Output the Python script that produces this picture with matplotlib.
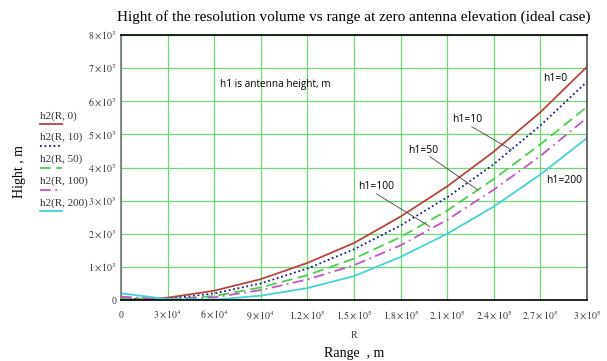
import math
import matplotlib
matplotlib.use("Agg")
import matplotlib.pyplot as plt
from matplotlib.ticker import FuncFormatter, MultipleLocator
from matplotlib.lines import Line2D

plt.rcParams['mathtext.fontset'] = 'stix'
plt.rcParams['font.family'] = ['Liberation Serif', 'DejaVu Serif']

# Data (range in m, height in m)
R = [0, 3e4, 6e4, 9e4, 1.2e5, 1.5e5, 1.8e5, 2.1e5, 2.4e5, 2.7e5, 3e5]
h2_0 = [0, 70, 280, 630, 1120, 1720, 2520, 3430, 4480, 5670, 7040]
h2_10 = [30, 30, 200, 500, 950, 1530, 2250, 3100, 4100, 5270, 6590]
h2_50 = [60, 20, 120, 380, 750, 1250, 1900, 2700, 3650, 4700, 5830]
h2_100 = [100, 20, 80, 300, 620, 1050, 1650, 2420, 3330, 4350, 5500]
h2_200 = [200, 30, 10, 130, 360, 720, 1300, 2000, 2820, 3790, 4890]

series_labels = ["h2(R, 0)", "h2(R, 10)", "h2(R, 50)", "h2(R, 100)", "h2(R, 200)"]
curve_labels = ["h1=0", "h1=10", "h1=50", "h1=100", "h1=200"]

colors = ["#b8463c", "#1c1c8a", "#4ccf4c", "#c455c4", "#45d2d8"]
styles = ["-", (0, (1, 1.5)), (0, (6, 3)), (0, (6, 2.5, 1, 2.5)), "-"]

fig = plt.figure(figsize=(6.07, 3.61), dpi=100)
ax = fig.add_axes([121/607, 1 - 300/361, 466/607, 265/361])

for ys, c, ls in zip([h2_0, h2_10, h2_50, h2_100, h2_200], colors, styles):
    ax.plot(R, ys, color=c, linestyle=ls, linewidth=1.3)

ax.set_xlim(0, 3e5)
ax.set_ylim(0, 8000)
ax.xaxis.set_major_locator(MultipleLocator(3e4))
ax.yaxis.set_major_locator(MultipleLocator(1000))

def fmt(v, pos):
    if v == 0:
        return "0"
    e = int(math.floor(math.log10(abs(v)) + 1e-9))
    m = v / 10**e
    ms = ("%g" % round(m, 3))
    return r"$%s\times10^{%d}$" % (ms, e)

ax.xaxis.set_major_formatter(FuncFormatter(fmt))
ax.yaxis.set_major_formatter(FuncFormatter(fmt))
ax.tick_params(axis='both', length=0, labelsize=7, colors="#333333")
ax.tick_params(axis='x', pad=11)
ax.tick_params(axis='y', pad=3)
plt.setp(ax.get_xticklabels(), va='center')
ax.grid(True, color="#72d672", linewidth=0.9)
for s in ax.spines.values():
    s.set_linewidth(1.2)
ax.spines['left'].set_color("#777777")
ax.spines['right'].set_color("#555555")

ax.set_title("Hight of the resolution volume vs range at zero antenna elevation (ideal case)",
             fontsize=11, pad=10)

# Annotations
sans = ['Open Sans', 'DejaVu Sans']
ax.text(6.37e4, 6520, "h1 is antenna height, m", fontsize=7.2, family=sans, va='center')
ax.text(2.717e5, 6700, curve_labels[0], fontsize=7.5, family=sans, va='center')
ax.text(2.129e5, 5455, curve_labels[1], fontsize=7.5, family=sans, va='center')
ax.text(1.85e5, 4510, curve_labels[2], fontsize=7.5, family=sans, va='center')
ax.text(1.528e5, 3440, curve_labels[3], fontsize=7.5, family=sans, va='center')
ax.text(2.74e5, 3620, curve_labels[4], fontsize=7.5, family=sans, va='center')
ax.plot([2.258e5, 2.515e5], [5232, 4528], color="#444444", lw=0.6)
ax.plot([1.989e5, 2.298e5], [4326, 3320], color="#444444", lw=0.6)
ax.plot([1.646e5, 1.989e5], [3200, 2213], color="#444444", lw=0.6)

# Left legend (outside axes)
ys_text = [116, 137, 159, 181.5, 203]
for i, (lab, c, ls) in enumerate(zip(series_labels, colors, styles)):
    yt = 1 - ys_text[i] / 361
    fig.text(40/607, yt, lab, fontsize=8, va='center', ha='left', color="#333333")
    yl = 1 - (ys_text[i] + 8.5) / 361
    fig.add_artist(Line2D([40/607, 62/607], [yl, yl], color=c, linestyle=ls,
                          linewidth=1.3, transform=fig.transFigure))

fig.text(20/607, 1 - 172/361, "Hight , m", rotation=90, fontsize=10, va='center', ha='center')
fig.text(354/607, 1 - 335/361, "R", fontsize=7, va='center', ha='center', color="#333333")
fig.text(354/607, 1 - 354/361, "Range  , m", fontsize=10, va='center', ha='center')

fig.savefig("out.png", dpi=100)
